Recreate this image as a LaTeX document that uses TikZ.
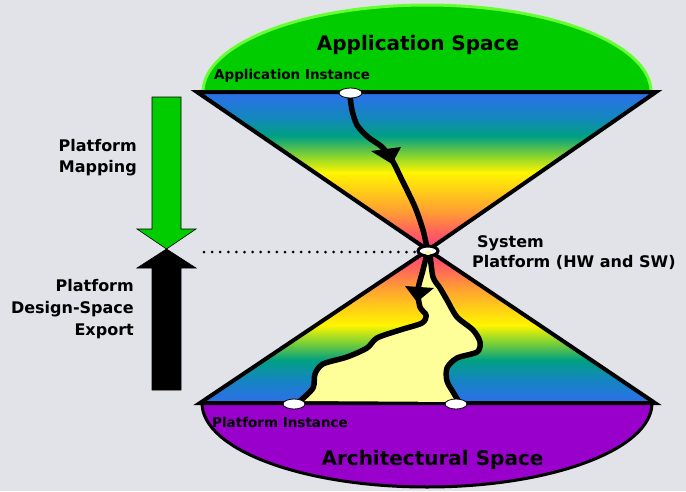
\documentclass[tikz,border=0pt]{standalone}
\usepackage{fontspec}
\setmainfont{DejaVu Sans}
\definecolor{bg}{RGB}{226,227,233}
\definecolor{appgreen}{RGB}{0,204,0}
\definecolor{appedge}{RGB}{102,255,51}
\definecolor{archpurple}{RGB}{153,0,204}
\definecolor{pathyellow}{RGB}{255,255,153}
\definecolor{cpink}{RGB}{255,60,130}
\definecolor{cred}{RGB}{255,100,90}
\definecolor{corange}{RGB}{255,160,50}
\definecolor{cyellow}{RGB}{255,245,0}
\definecolor{cgreen}{RGB}{130,210,50}
\definecolor{cteal}{RGB}{0,160,130}
\definecolor{cteal2}{RGB}{20,135,190}
\definecolor{cblue}{RGB}{45,110,235}
\pgfdeclareverticalshading{rainup}{100bp}{color(0bp)=(cpink); color(25bp)=(cpink); color(31bp)=(cred); color(37.5bp)=(corange); color(49.5bp)=(cyellow); color(55bp)=(cgreen); color(61bp)=(cteal); color(67bp)=(cteal2); color(75bp)=(cblue); color(100bp)=(cblue)}
\pgfdeclareverticalshading{raindown}{100bp}{color(0bp)=(cblue); color(25bp)=(cblue); color(33bp)=(cteal2); color(39bp)=(cteal); color(45bp)=(cgreen); color(50.5bp)=(cyellow); color(62.5bp)=(corange); color(69bp)=(cred); color(75bp)=(cpink); color(100bp)=(cpink)}
\begin{document}
\begin{tikzpicture}[x=1pt,y=-1pt,
  titletext/.style={font=\bfseries\fontsize{20}{24}\selectfont, inner sep=0pt},
  insttext/.style={font=\bfseries\fontsize{13.5}{16}\selectfont, inner sep=0pt},
  sidetext/.style={font=\bfseries\fontsize{16}{19}\selectfont, inner sep=0pt},
  outline/.style={line width=4pt, line join=miter},
  wiggle/.style={line width=5.5pt, line cap=round, line join=round},
  oval/.style={fill=white, draw=black, line width=0.8pt},
  bigarrow/.style={draw=black, line width=0.6pt, line join=miter}]
\useasboundingbox (0,0) rectangle (686,491);
\fill[bg] (0,0) rectangle (686,491);
% spaces
\filldraw[fill=appgreen, draw=appedge, line width=3pt] (203,92) arc[start angle=180, end angle=360, x radius=224, y radius=87] -- cycle;
\filldraw[fill=archpurple, draw=black, line width=3pt] (652,403) arc[start angle=0, end angle=180, x radius=225, y radius=84] -- cycle;
% cones
\path[shading=rainup] (197,92) -- (656,92) -- (428,250) -- cycle;
\draw[outline] (197,92) -- (656,92) -- (428,250) -- cycle;
\path[shading=raindown] (428,250) -- (655,403) -- (200,403) -- cycle;
\draw[outline] (428,250) -- (655,403) -- (200,403) -- cycle;
% platform design space region
\fill[pathyellow] plot[smooth] coordinates {(427,254) (423,270) (418,290) (420,307) (426,315) (422,323) (400,330) (377,338) (367,348) (347,357) (323,364) (315,374) (313,388) (300,401)}
  -- plot[smooth] coordinates {(459,402) (453,392) (447,381) (447,368) (457,358) (477,352) (480,342) (473,330) (457,317) (447,300) (440,288) (433,277) (430,254)} -- cycle;
\draw[wiggle] plot[smooth] coordinates {(427,254) (423,270) (418,290) (420,307) (426,315) (422,323) (400,330) (377,338) (367,348) (347,357) (323,364) (315,374) (313,388) (300,401)};
\draw[wiggle] plot[smooth] coordinates {(430,254) (433,277) (440,288) (447,300) (457,317) (473,330) (480,342) (477,352) (457,358) (447,368) (447,381) (453,392) (459,402)};
\fill[black] (405,286) -- (434,288) -- (417,302) -- cycle;
% mapping path
\draw[wiggle] plot[smooth] coordinates {(350,96) (352,110) (357,125) (368,137) (382,147) (392,160) (402,180) (415,207) (423,230) (427,248)};
\fill[black] (371,151) -- (401,147) -- (392,164) -- cycle;
% instance ovals
\filldraw[oval] (350.5,93) ellipse[x radius=11.5, y radius=5];
\filldraw[fill=white, draw=black, line width=3pt] (428,251) ellipse[x radius=10, y radius=5];
\fill[pathyellow] (428,253) ellipse[x radius=3, y radius=2];
\filldraw[oval] (294,404) ellipse[x radius=11, y radius=5];
\filldraw[oval] (456,404) ellipse[x radius=11, y radius=5];
% dotted line
\draw[line width=3pt, line cap=round, dash pattern=on 0pt off 8.1pt] (204,252) -- (416,252);
% side arrows
\filldraw[fill=appgreen, bigarrow] (152,97) -- (181,97) -- (181,229) -- (196,229) -- (166.5,249) -- (137,229) -- (152,229) -- cycle;
\filldraw[fill=black, bigarrow] (152,390) -- (181,390) -- (181,268) -- (196,268) -- (166.5,249) -- (137,268) -- (152,268) -- cycle;
% texts
\node[titletext, anchor=base] (appspace) at (418,50) {Application Space};
\node[insttext, anchor=base west] (appinst) at (214,79) {Application Instance};
\node[insttext, anchor=base west] (platinst) at (212,427) {Platform Instance};
\node[titletext, anchor=base] (archspace) at (432.5,465) {Architectural Space};
\node[sidetext, anchor=base west] (sysa) at (477,247) {System};
\node[sidetext, anchor=base west] (sysb) at (472,267) {Platform (HW and SW)};
\node[sidetext, anchor=base east] (mapa) at (137,151) {Platform};
\node[sidetext, anchor=base east] (mapb) at (137,172) {Mapping};
\node[sidetext, anchor=base east] (expa) at (134,291) {Platform};
\node[sidetext, anchor=base east] (expb) at (134,313) {Design-Space};
\node[sidetext, anchor=base east] (expc) at (134,335) {Export};
\end{tikzpicture}
\end{document}
